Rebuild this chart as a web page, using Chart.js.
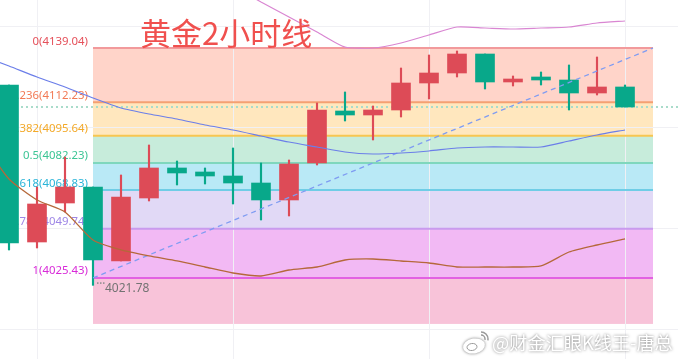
<!DOCTYPE html>
<html>
<head>
<meta charset="utf-8">
<script src="https://cdn.jsdelivr.net/npm/chart.js@4.4.1/dist/chart.umd.min.js"></script>
<style>
  html, body { margin: 0; padding: 0; background: #fff; }
  #wrap { width: 678px; height: 359px; position: relative; }
</style>
</head>
<body>
<div id="wrap"><canvas id="grafico"></canvas></div>
<script>
// Candles 2h (índice 0..22)
const opens  = [4120.76, 4043.19, 4062.46, 4070.37, 4033.81, 4064.93, 4079.76, 4077.78, 4075.80, 4072.34, 4063.95, 4082.23, 4107.92, 4105.94, 4108.41, 4121.75, 4126.69, 4136.08, 4122.25, 4124.72, 4123.23, 4116.81, 4119.78];
const closes = [4042.70, 4061.97, 4070.37, 4034.30, 4065.43, 4079.76, 4077.29, 4075.80, 4072.34, 4063.95, 4081.73, 4108.41, 4105.94, 4108.41, 4121.75, 4126.69, 4136.08, 4122.25, 4123.73, 4123.23, 4116.81, 4119.78, 4109.89];
const highs  = [4120.76, 4070.37, 4085.19, 4070.37, 4076.30, 4091.12, 4083.21, 4079.76, 4089.64, 4082.23, 4083.71, 4111.87, 4117.31, 4110.39, 4129.16, 4135.59, 4137.56, 4136.08, 4125.21, 4127.19, 4130.65, 4134.60, 4120.76];
const lows   = [4039.24, 4040.23, 4058.02, 4021.78, 4033.81, 4063.45, 4071.36, 4071.85, 4061.97, 4054.06, 4056.04, 4081.24, 4102.98, 4093.59, 4104.95, 4113.85, 4124.72, 4118.79, 4120.27, 4120.76, 4108.41, 4115.82, 4109.89];

// Médias móveis (começam no índice -1)
const maBlue  = [4135.34, 4130.15, 4124.72, 4119.78, 4114.34, 4109.40, 4106.44, 4103.97, 4101.00, 4098.53, 4095.57, 4092.60, 4090.13, 4087.66, 4086.67, 4087.17, 4088.16, 4089.64, 4090.13, 4090.13, 4090.13, 4093.10, 4096.06, 4098.53];
const maBrown = [4093.59, 4074.32, 4063.95, 4058.02, 4044.18, 4039.24, 4036.28, 4033.81, 4030.84, 4027.88, 4026.40, 4029.36, 4030.84, 4034.30, 4034.80, 4033.81, 4032.82, 4030.84, 4030.84, 4030.84, 4031.34, 4038.25, 4041.71, 4044.68];
// começa no índice 8
const maPink  = [4169.68, 4161.77, 4154.36, 4146.95, 4139.54, 4139.04, 4141.51, 4145.47, 4149.42, 4148.93, 4148.43, 4148.93, 4149.42, 4151.40, 4152.38];

// Fibonacci
const fibRatios = ['0', '0.236', '0.382', '0.5', '0.618', '0.786', '1', '1.2'];
const fibPrices = [4139.04, 4112.23, 4095.64, 4082.23, 4068.83, 4049.74, 4025.43, 4002.71];
const fibFrom = 3, fibTo = 23;
const lowPrice = 4021.78;
const gridPrices = [4000, 4050, 4100, 4150];
const gridIdx = [1, 8, 15, 22];

// Estilos
const bandColors  = ['#ffd4c9', '#ffe7be', '#c7ecdb', '#b9e9f6', '#e1d9f6', '#f2b9f4', '#f8c3d9'];
const lineColors  = ['#f29a9c', '#f5a072', '#f7c650', '#7fd7bd', '#6fcde6', '#c99bee', '#e262e2'];
const labelColors = ['#e5505a', '#f27a55', '#f3a928', '#3cc595', '#29b4d8', '#9e86e6', '#d82ad8'];
const UP = '#dd4b57', DOWN = '#08a88a';

const candleColors = opens.map((o, i) => closes[i] >= o ? UP : DOWN);

const fibPlugin = {
    id: 'fib',
    beforeDraw(chart) {
        const { ctx, scales: { x, y } } = chart;
        const x0 = x.getPixelForValue(fibFrom), x1 = x.getPixelForValue(fibTo);
        ctx.save();
        ctx.fillStyle = '#fff';
        ctx.fillRect(0, 0, chart.width, chart.height);
        for (let i = 0; i < fibPrices.length - 1; i++) {
            const ya = y.getPixelForValue(fibPrices[i]);
            const yb = y.getPixelForValue(fibPrices[i + 1]);
            ctx.fillStyle = bandColors[i];
            ctx.fillRect(x0, ya, x1 - x0, yb - ya);
        }
        // grade
        ctx.strokeStyle = '#f0f0f4';
        ctx.lineWidth = 1;
        gridPrices.forEach(p => {
            const py = Math.round(y.getPixelForValue(p)) + 0.5;
            ctx.beginPath(); ctx.moveTo(0, py); ctx.lineTo(chart.width, py); ctx.stroke();
        });
        gridIdx.forEach(v => {
            const px = Math.round(x.getPixelForValue(v)) + 0.5;
            ctx.beginPath(); ctx.moveTo(px, 0); ctx.lineTo(px, chart.height); ctx.stroke();
        });
        // linhas dos níveis
        ctx.lineWidth = 2;
        for (let i = 0; i < 7; i++) {
            const py = y.getPixelForValue(fibPrices[i]);
            ctx.strokeStyle = lineColors[i];
            ctx.beginPath(); ctx.moveTo(x0, py); ctx.lineTo(x1, py); ctx.stroke();
        }
        ctx.restore();
    },
    beforeDatasetsDraw(chart) {
        const { ctx, scales: { x, y } } = chart;
        const x0 = x.getPixelForValue(fibFrom);
        ctx.save();
        ctx.font = '11.4px "Noto Sans"';
        ctx.textAlign = 'right';
        ctx.textBaseline = 'alphabetic';
        for (let i = 0; i < 7; i++) {
            const py = y.getPixelForValue(fibPrices[i]);
            ctx.fillStyle = labelColors[i];
            ctx.fillText(fibRatios[i] + '(' + fibPrices[i].toFixed(2) + ')', x0 - 5, py - 3.5);
        }
        ctx.restore();
    },
    afterDraw(chart) {
        const { ctx, scales: { x, y } } = chart;
        ctx.save();
        // mínima
        const lx = x.getPixelForValue(fibFrom), ly = y.getPixelForValue(lowPrice);
        ctx.fillStyle = '#8a8a8a';
        [4, 7, 10].forEach(d => ctx.fillRect(lx + d, ly - 3, 1.5, 1.5));
        ctx.fillStyle = '#737373';
        ctx.font = '12px "Noto Sans"';
        ctx.textAlign = 'left';
        ctx.textBaseline = 'middle';
        ctx.fillText(lowPrice.toFixed(2), lx + 12, ly + 3);

        // título
        ctx.fillStyle = '#f0504e';
        ctx.font = '31px "Noto Sans CJK SC"';
        ctx.textBaseline = 'middle';
        ctx.fillText('黄金2小时线', 140, 33);

        // marca d'água
        const wm = '@财金汇眼K线王-唐总';
        ctx.font = '17px "Noto Sans CJK SC"';
        const w = ctx.measureText(wm).width;
        const fs = 17 * 181 / w;
        ctx.font = fs.toFixed(1) + 'px "Noto Sans CJK SC"';
        ctx.shadowColor = 'rgba(0,0,0,0.55)';
        ctx.shadowBlur = 3;
        ctx.fillStyle = '#fff';
        ctx.fillText(wm, 492, 343);
        // logo
        ctx.beginPath();
        ctx.ellipse(474, 346, 11, 7.5, -0.15, 0, Math.PI * 2);
        ctx.fill();
        ctx.shadowBlur = 0;
        ctx.strokeStyle = '#9a9a9a';
        ctx.lineWidth = 1;
        ctx.beginPath();
        ctx.ellipse(472, 347, 5, 3.5, -0.15, 0, Math.PI * 2);
        ctx.stroke();
        ctx.lineWidth = 1.5;
        ctx.beginPath(); ctx.arc(481, 339, 4, -Math.PI / 2, 0.2); ctx.stroke();
        ctx.beginPath(); ctx.arc(481, 339, 7, -Math.PI / 2, 0.2); ctx.stroke();
        ctx.restore();
    }
};

const ultimo = closes[closes.length - 1];

new Chart(document.getElementById('grafico').getContext('2d'), {
    type: 'bar',
    data: {
        datasets: [
            {
                type: 'line', order: 0,
                data: maBlue.map((v, i) => ({ x: i - 1, y: v })),
                borderColor: '#6b7ee9', borderWidth: 1.2, pointRadius: 0, tension: 0.2
            },
            {
                type: 'line', order: 0,
                data: maBrown.map((v, i) => ({ x: i - 1, y: v })),
                borderColor: '#b5683a', borderWidth: 1.3, pointRadius: 0, tension: 0.2
            },
            {
                type: 'line', order: 0,
                data: maPink.map((v, i) => ({ x: i + 8, y: v })),
                borderColor: '#d986d2', borderWidth: 1.2, pointRadius: 0, tension: 0.2
            },
            {
                type: 'line', order: 1,
                data: [{ x: fibFrom, y: fibPrices[6] }, { x: fibTo, y: fibPrices[0] }],
                borderColor: '#7f9cf2', borderWidth: 1.3, borderDash: [5, 4], pointRadius: 0
            },
            {
                order: 5,
                data: opens.map((o, i) => ({ x: i, y: [o, closes[i]] })),
                backgroundColor: candleColors, barThickness: 19, borderWidth: 0
            },
            {
                order: 6,
                data: lows.map((l, i) => ({ x: i, y: [l, highs[i]] })),
                backgroundColor: candleColors, barThickness: 1.5, borderWidth: 0
            },
            {
                type: 'line', order: 7,
                data: [{ x: -1, y: ultimo }, { x: 25, y: ultimo }],
                borderColor: '#a9dccb', borderWidth: 2, borderDash: [2, 3], pointRadius: 0
            }
        ]
    },
    options: {
        responsive: true,
        maintainAspectRatio: false,
        animation: false,
        layout: { padding: 0 },
        datasets: { bar: { grouped: false } },
        plugins: { legend: { display: false }, tooltip: { enabled: false } },
        scales: {
            x: { type: 'linear', display: false, offset: false, min: -9 / 28, max: 669 / 28 },
            y: { display: false, min: 3985.38, max: 4162.76 }
        }
    },
    plugins: [fibPlugin]
});
</script>
</body>
</html>
